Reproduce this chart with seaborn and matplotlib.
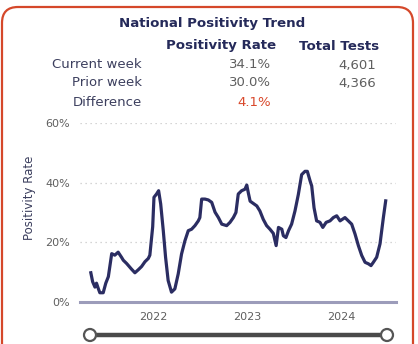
import matplotlib
matplotlib.use("Agg")
import matplotlib.pyplot as plt
import matplotlib.dates as mdates
from matplotlib.patches import FancyBboxPatch, Circle
from matplotlib.lines import Line2D
from matplotlib.transforms import IdentityTransform
from matplotlib.ticker import FuncFormatter
import seaborn as sns
import pandas as pd

dates = [
    "2021-05-05", "2021-05-12", "2021-05-21", "2021-05-27", "2021-06-03", "2021-06-09",
    "2021-06-22", "2021-07-02", "2021-07-12", "2021-07-25", "2021-08-06", "2021-08-19",
    "2021-09-01", "2021-09-08", "2021-09-21", "2021-10-10", "2021-10-23", "2021-11-05",
    "2021-11-18", "2021-12-01", "2021-12-14", "2021-12-20", "2021-12-31", "2022-01-05",
    "2022-01-15", "2022-01-23", "2022-01-31", "2022-02-10", "2022-02-19", "2022-03-01",
    "2022-03-14", "2022-03-27", "2022-04-09", "2022-04-22", "2022-05-05", "2022-05-18",
    "2022-05-31", "2022-06-13", "2022-06-26", "2022-07-02", "2022-07-09", "2022-07-22",
    "2022-08-04", "2022-08-17", "2022-08-30", "2022-09-12", "2022-09-25", "2022-10-14",
    "2022-10-27", "2022-11-09", "2022-11-19", "2022-11-28", "2022-12-11", "2022-12-24",
    "2022-12-31", "2023-01-06", "2023-01-13", "2023-01-26", "2023-02-08", "2023-02-20",
    "2023-03-05", "2023-03-18", "2023-03-31", "2023-04-13", "2023-04-24", "2023-05-03",
    "2023-05-16", "2023-05-22", "2023-06-01", "2023-06-11", "2023-06-23", "2023-07-06",
    "2023-07-19", "2023-08-01", "2023-08-14", "2023-08-23", "2023-09-03", "2023-09-09",
    "2023-09-18", "2023-09-28", "2023-10-11", "2023-10-22", "2023-11-04", "2023-11-19",
    "2023-12-02", "2023-12-15", "2023-12-28", "2024-01-16", "2024-01-29", "2024-02-11",
    "2024-02-24", "2024-03-08", "2024-03-21", "2024-04-03", "2024-04-16", "2024-04-26",
    "2024-05-05", "2024-05-18", "2024-05-31", "2024-06-13", "2024-06-22",
]
positivity = [
    9.8, 6.8, 5.0, 6.3, 4.5, 3.1,
    3.1, 6.3, 8.5, 16.2, 15.7, 16.7,
    15.0, 14.0, 12.9, 11.0, 9.8, 10.8,
    11.9, 13.5, 14.6, 15.7, 25.2, 35.1,
    36.2, 37.3, 32.9, 24.0, 15.0, 7.2,
    3.3, 4.4, 9.4, 16.1, 20.5, 23.9,
    24.4, 25.6, 27.2, 28.3, 34.5, 34.5,
    34.2, 33.4, 30.1, 28.3, 26.1, 25.6,
    26.7, 28.3, 30.0, 36.2, 37.3, 37.8,
    39.2, 36.6, 33.8, 33.0, 32.2, 30.5,
    27.7, 25.6, 24.4, 23.0, 18.9, 25.0,
    24.4, 22.2, 21.6, 23.9, 26.1, 30.5,
    36.0, 42.7, 43.8, 43.8, 40.5, 38.9,
    31.6, 27.2, 26.7, 25.0, 26.7, 27.2,
    28.3, 28.9, 27.2, 28.3, 27.2, 26.1,
    22.8, 18.9, 15.6, 13.3, 12.8, 12.2,
    13.3, 15.0, 19.5, 28.3, 33.9,
]

title = "National Positivity Trend"
col_headers = ["Positivity Rate", "Total Tests"]
row_labels = ["Current week", "Prior week", "Difference"]
rate_values = ["34.1%", "30.0%", "4.1%"]
test_values = ["4,601", "4,366", ""]
y_ticks = [0, 20, 40, 60]
year_ticks = ["2022-01-01", "2023-01-01", "2024-01-01"]

df = pd.DataFrame({"date": pd.to_datetime(dates), "rate": positivity})

W, H = 418, 344
fig = plt.figure(figsize=(W / 100, H / 100), dpi=100)
fig.patch.set_facecolor("white")

navy = "#252a5a"
textc = "#3c3f5e"
grayc = "#5f5f5f"

# Header table
fig.text(212 / W, 1 - 24 / H, title, ha="center", va="center", fontsize=9.6,
         fontweight="bold", color=navy)
fig.text(221 / W, 1 - 46 / H, col_headers[0], ha="center", va="center", fontsize=9.6,
         fontweight="bold", color=navy)
fig.text(339 / W, 1 - 46 / H, col_headers[1], ha="center", va="center", fontsize=9.6,
         fontweight="bold", color=navy)
row_y = [65, 83, 102]
for i, lab in enumerate(row_labels):
    yy = 1 - row_y[i] / H
    fig.text(142 / W, yy, lab, ha="right", va="center", fontsize=9.5, color=textc)
    fig.text(271 / W, yy, rate_values[i], ha="right", va="center", fontsize=9.5,
             color="#d9482b" if i == 2 else grayc)
    if test_values[i]:
        fig.text(376 / W, yy, test_values[i], ha="right", va="center", fontsize=9.5,
                 color=grayc)

# Chart axes
ax = fig.add_axes([80 / W, 1 - 302 / H, (396 - 80) / W, (302 - 123) / H])
ax.set_facecolor("white")
for s in ax.spines.values():
    s.set_visible(False)

for t in y_ticks[1:]:
    ax.axhline(t, color="#c8c8c8", linewidth=0.9, linestyle=(0, (1, 3)), zorder=0)
ax.axhline(0, color="#9c9cba", linewidth=2.2, zorder=1, clip_on=False)

sns.lineplot(data=df, x="date", y="rate", ax=ax, color="#2b2d62", linewidth=2.3,
             zorder=3)

ax.set_ylim(0, 60)
ax.set_xlim(pd.Timestamp("2021-03-24"), pd.Timestamp("2024-08-01"))
ax.set_yticks(y_ticks)
ax.yaxis.set_major_formatter(FuncFormatter(lambda v, p: f"{v:.0f}%"))
ax.set_xticks(pd.to_datetime(year_ticks))
ax.xaxis.set_major_formatter(mdates.DateFormatter("%Y"))
ax.tick_params(axis="both", length=0, labelsize=8, colors=grayc)
ax.tick_params(axis="y", pad=7)
ax.tick_params(axis="x", pad=7)
ax.set_xlabel("")
ax.set_ylabel("Positivity Rate", fontsize=8.5, color=textc)
ax.yaxis.set_label_coords(-0.14, 0.58)

# Slider
tr = IdentityTransform()
sy = H - 335
fig.add_artist(Line2D([90, 387], [sy, sy], color="#4a4a4a", linewidth=3.2,
                      transform=tr))
for cx in (90, 387):
    fig.add_artist(Circle((cx, sy), 6, facecolor="white", edgecolor="#555555",
                          linewidth=1.6, transform=tr, zorder=5))

# Border
fig.add_artist(FancyBboxPatch((2, -20), 411, H - 7 + 20,
                              boxstyle="round,pad=0,rounding_size=16",
                              facecolor="none", edgecolor="#d5482a", linewidth=1.6,
                              transform=tr))

fig.savefig("out.png", dpi=100)
